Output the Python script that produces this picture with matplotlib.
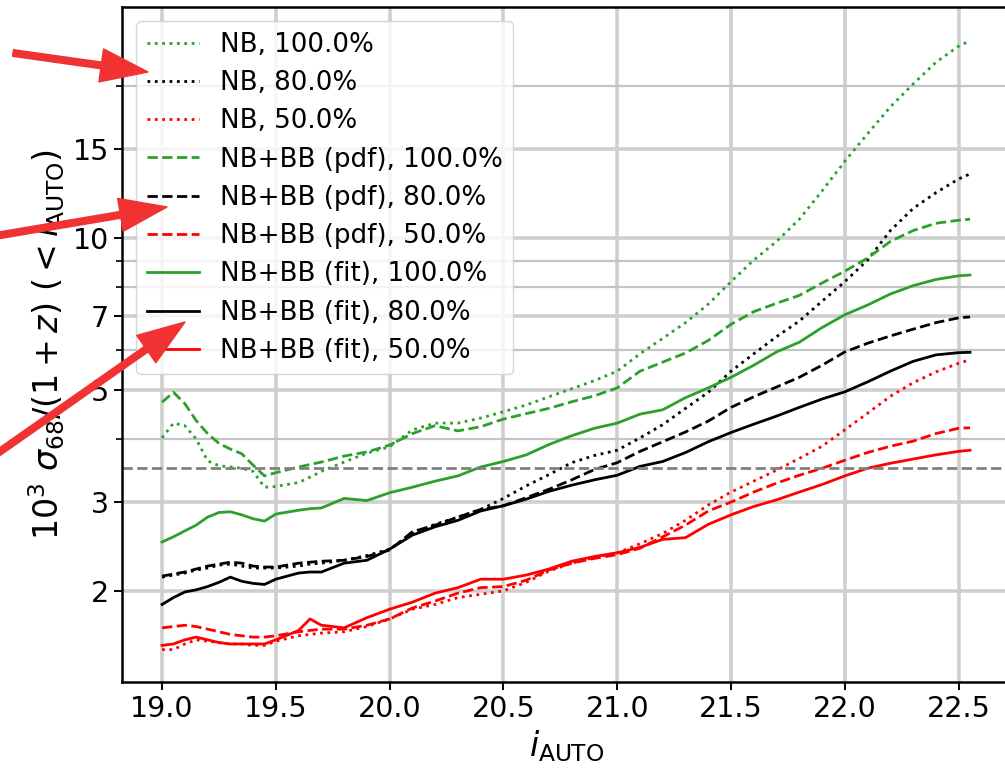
import matplotlib
matplotlib.use("Agg")
import matplotlib.pyplot as plt
from matplotlib.patches import FancyArrowPatch
from matplotlib.ticker import NullFormatter, LogLocator

# ---------------- data ----------------
i_auto = [19.0, 19.05, 19.1, 19.15, 19.2, 19.25, 19.3, 19.35, 19.4, 19.45, 19.5,
          19.6, 19.65, 19.7, 19.8, 19.9, 20.0,
          20.1, 20.2, 20.3, 20.4, 20.5, 20.6, 20.7, 20.8, 20.9, 21.0,
          21.1, 21.2, 21.3, 21.4, 21.5, 21.6, 21.7, 21.8, 21.9, 22.0,
          22.1, 22.2, 22.3, 22.4, 22.5, 22.55]

nb_100 = [4.02, 4.3, 4.25, 4.0, 3.62, 3.54, 3.52, 3.5, 3.45, 3.21, 3.22, 3.28, 3.36, 3.45, 3.6, 3.75, 3.86,
          4.17, 4.3, 4.3, 4.4, 4.53, 4.67, 4.85, 5.03, 5.22, 5.45,
          5.9, 6.33, 6.8, 7.4, 8.2, 9.05, 9.85, 10.9, 12.4, 14.2, 16.1, 18.2, 20.2, 22.3, 24.0, 24.6]
nb_80 = [2.13, 2.15, 2.17, 2.2, 2.22, 2.25, 2.26, 2.24, 2.22, 2.22, 2.22, 2.24, 2.26, 2.27, 2.3, 2.35, 2.42,
         2.6, 2.71, 2.8, 2.9, 3.05, 3.23, 3.4, 3.59, 3.71, 3.8,
         4.02, 4.27, 4.6, 4.95, 5.45, 5.9, 6.38, 6.85, 7.5, 8.2, 9.05, 10.35, 11.45, 12.3, 13.1, 13.4]
nb_50 = [1.53, 1.53, 1.57, 1.6, 1.59, 1.58, 1.57, 1.57, 1.56, 1.56, 1.59, 1.63, 1.64, 1.65, 1.66, 1.7, 1.76,
         1.84, 1.88, 1.94, 1.97, 2.0, 2.08, 2.19, 2.27, 2.33, 2.38,
         2.48, 2.6, 2.76, 2.96, 3.14, 3.3, 3.47, 3.66, 3.87, 4.17, 4.5, 4.86, 5.17, 5.43, 5.65, 5.74]
pdf_100 = [4.73, 4.95, 4.7, 4.35, 4.1, 3.92, 3.82, 3.74, 3.55, 3.38, 3.43, 3.52, 3.56, 3.6, 3.7, 3.77, 3.89,
           4.1, 4.25, 4.15, 4.23, 4.38, 4.49, 4.6, 4.74, 4.87, 5.05,
           5.45, 5.68, 5.92, 6.27, 6.75, 7.15, 7.43, 7.7, 8.15, 8.6, 9.13, 9.85, 10.35, 10.7, 10.85, 10.9]
pdf_80 = [2.14, 2.16, 2.18, 2.21, 2.24, 2.26, 2.28, 2.27, 2.24, 2.23, 2.23, 2.27, 2.28, 2.29, 2.3, 2.34, 2.41,
          2.62, 2.7, 2.8, 2.9, 2.95, 3.06, 3.18, 3.32, 3.48, 3.59,
          3.78, 3.95, 4.13, 4.34, 4.62, 4.85, 5.07, 5.3, 5.6, 5.95, 6.19, 6.4, 6.6, 6.8, 6.95, 6.98]
pdf_50 = [1.69, 1.70, 1.71, 1.70, 1.68, 1.66, 1.64, 1.63, 1.62, 1.62, 1.63, 1.66, 1.67, 1.68, 1.68, 1.71, 1.76,
          1.85, 1.91, 1.98, 2.03, 2.04, 2.1, 2.2, 2.27, 2.32, 2.36,
          2.43, 2.56, 2.7, 2.88, 3.0, 3.14, 3.27, 3.39, 3.5, 3.63, 3.76, 3.87, 3.96, 4.1, 4.2, 4.21]
fit_100 = [2.5, 2.56, 2.63, 2.7, 2.8, 2.86, 2.87, 2.83, 2.78, 2.75, 2.84, 2.89, 2.91, 2.92, 3.05, 3.02, 3.13,
           3.21, 3.3, 3.38, 3.52, 3.61, 3.72, 3.9, 4.06, 4.2, 4.3,
           4.48, 4.57, 4.83, 5.05, 5.3, 5.6, 5.95, 6.22, 6.65, 7.05, 7.37, 7.75, 8.05, 8.28, 8.42, 8.45]
fit_80 = [1.88, 1.94, 1.99, 2.01, 2.04, 2.08, 2.13, 2.09, 2.07, 2.06, 2.11, 2.17, 2.18, 2.18, 2.27, 2.3, 2.42,
          2.58, 2.68, 2.76, 2.88, 2.95, 3.04, 3.15, 3.24, 3.32, 3.39,
          3.53, 3.61, 3.76, 3.95, 4.12, 4.28, 4.44, 4.62, 4.8, 4.96, 5.19, 5.45, 5.7, 5.87, 5.93, 5.94]
fit_50 = [1.56, 1.57, 1.6, 1.62, 1.6, 1.58, 1.57, 1.57, 1.57, 1.57, 1.6, 1.67, 1.76, 1.71, 1.69, 1.77, 1.84,
          1.9, 1.98, 2.03, 2.11, 2.11, 2.15, 2.21, 2.29, 2.34, 2.38,
          2.44, 2.53, 2.55, 2.71, 2.83, 2.94, 3.03, 3.14, 3.25, 3.38, 3.5, 3.58, 3.65, 3.72, 3.78, 3.80]

threshold = 3.5
y_ticks = [2, 3, 5, 7, 10, 15]
y_tick_labels = ["2", "3", "5", "7", "10", "15"]
x_ticks = [19.0, 19.5, 20.0, 20.5, 21.0, 21.5, 22.0, 22.5]
x_tick_labels = ["19.0", "19.5", "20.0", "20.5", "21.0", "21.5", "22.0", "22.5"]

series = [
    ("NB, 100.0%", nb_100, "C2", ":"),
    ("NB, 80.0%", nb_80, "k", ":"),
    ("NB, 50.0%", nb_50, "r", ":"),
    ("NB+BB (pdf), 100.0%", pdf_100, "C2", "--"),
    ("NB+BB (pdf), 80.0%", pdf_80, "k", "--"),
    ("NB+BB (pdf), 50.0%", pdf_50, "r", "--"),
    ("NB+BB (fit), 100.0%", fit_100, "C2", "-"),
    ("NB+BB (fit), 80.0%", fit_80, "k", "-"),
    ("NB+BB (fit), 50.0%", fit_50, "r", "-"),
]

# ---------------- figure ----------------
W, H = 1005, 771
fig = plt.figure(figsize=(W / 100, H / 100), dpi=100)
ax = fig.add_axes([122 / W, 1 - 682 / H, (1011 - 122) / W, (682 - 7) / H])

for label, vals, col, ls in series:
    ax.plot(i_auto, vals, color=col, ls=ls, lw=2.0, label=label)

ax.axhline(threshold, color="0.5", ls="--", lw=2.0)

ax.set_yscale("log")
ax.set_xlim(18.824, 22.73)
ax.set_ylim(1.32, 28.7)
ax.set_yticks(y_ticks, y_tick_labels)
ax.yaxis.set_minor_locator(LogLocator(base=10, subs=range(2, 10)))
ax.yaxis.set_minor_formatter(NullFormatter())
ax.set_xticks(x_ticks, x_tick_labels)

ax.grid(True, which="major", color="#cfcfcf", lw=2.6)
ax.grid(True, which="minor", color="#c4c4c4", lw=1.6)
ax.set_axisbelow(True)

ax.tick_params(axis="both", which="major", labelsize=20.5, length=6, width=1.4)
ax.tick_params(axis="y", which="minor", length=4, width=1.2)
for sp in ax.spines.values():
    sp.set_linewidth(1.8)

ax.set_xlabel(r"$i_{\rm AUTO}$", fontsize=24)
ax.set_ylabel(r"$10^3\ \sigma_{68}/(1+z)\ (<i_{\rm AUTO})$", fontsize=24)

leg = ax.legend(loc="upper left", fontsize=18.8, handlelength=2.0, labelspacing=0.47,
                borderaxespad=0.55, framealpha=0.8)

# ---------------- red arrows (figure pixels, top-left origin) ----------------
arrow_col = "#f03232"
arrows = [((13, 53), (148, 72)), ((-5, 236), (167, 207)), ((-5, 455), (185, 322))]
for (x0, y0), (x1, y1) in arrows:
    p = FancyArrowPatch((x0 / W, 1 - y0 / H), (x1 / W, 1 - y1 / H),
                        transform=fig.transFigure,
                        arrowstyle="simple,head_length=34,head_width=24,tail_width=4.8",
                        mutation_scale=1, shrinkA=0, shrinkB=0,
                        color=arrow_col, zorder=10, clip_on=False)
    fig.add_artist(p)

fig.savefig("out.png", dpi=100)
